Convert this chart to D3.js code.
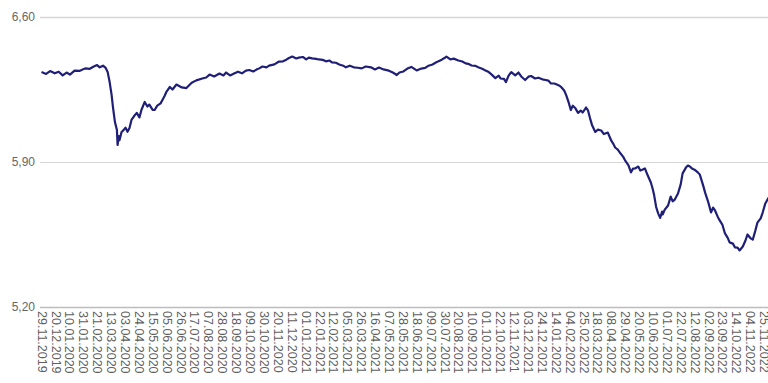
<!DOCTYPE html>
<html>
<head>
<meta charset="utf-8">
<script src="https://cdn.jsdelivr.net/npm/d3@7"></script>
<style>
  body { margin: 0; background: #fff; overflow: hidden; }
  svg { display: block; font-family: "Liberation Sans", Arial, sans-serif; }
</style>
</head>
<body>
<script>
const width = 768;
const height = 383;

// date of each observation
const dates = [
  "2019-11-29","2019-12-06","2019-12-12","2019-12-19","2019-12-25","2019-12-31",
  "2020-01-06","2020-01-11","2020-01-18","2020-01-26","2020-02-03","2020-02-10","2020-02-16","2020-02-21","2020-02-25",
  "2020-03-01","2020-03-05","2020-03-08","2020-03-11","2020-03-14","2020-03-16","2020-03-19","2020-03-22","2020-03-23","2020-03-25","2020-03-26","2020-03-29",
  "2020-04-01","2020-04-04","2020-04-07","2020-04-10","2020-04-13","2020-04-17","2020-04-21","2020-04-25","2020-04-28",
  "2020-05-03","2020-05-07","2020-05-10","2020-05-15","2020-05-18","2020-05-22","2020-05-27","2020-05-30",
  "2020-06-02","2020-06-05","2020-06-10","2020-06-14","2020-06-20","2020-06-28",
  "2020-07-05","2020-07-13","2020-07-20","2020-07-29",
  "2020-08-04","2020-08-09","2020-08-16","2020-08-24","2020-08-30",
  "2020-09-03","2020-09-09","2020-09-15","2020-09-21","2020-09-27",
  "2020-10-03","2020-10-08","2020-10-14","2020-10-19","2020-10-23","2020-10-28",
  "2020-11-03","2020-11-07","2020-11-15","2020-11-22","2020-11-28",
  "2020-12-03","2020-12-07","2020-12-12","2020-12-18","2020-12-22","2020-12-28",
  "2021-01-02","2021-01-06","2021-01-11","2021-01-17","2021-01-21","2021-01-27",
  "2021-02-01","2021-02-06","2021-02-10","2021-02-16","2021-02-21","2021-02-27",
  "2021-03-03","2021-03-09","2021-03-15","2021-03-21","2021-03-27",
  "2021-04-02","2021-04-10","2021-04-16","2021-04-22","2021-04-29",
  "2021-05-07","2021-05-13","2021-05-19","2021-05-23","2021-05-29",
  "2021-06-04","2021-06-10","2021-06-18","2021-06-25",
  "2021-07-01","2021-07-06","2021-07-12","2021-07-17","2021-07-21","2021-07-26","2021-07-30",
  "2021-08-02","2021-08-08","2021-08-13","2021-08-20","2021-08-26","2021-08-31",
  "2021-09-04","2021-09-09","2021-09-15","2021-09-19","2021-09-25","2021-09-30",
  "2021-10-05","2021-10-09","2021-10-15","2021-10-20","2021-10-23","2021-10-28","2021-10-31",
  "2021-11-04","2021-11-08","2021-11-14","2021-11-19","2021-11-23","2021-11-29",
  "2021-12-04","2021-12-08","2021-12-14","2021-12-19","2021-12-25","2021-12-30",
  "2022-01-03","2022-01-07","2022-01-12","2022-01-15","2022-01-20","2022-01-23","2022-01-27","2022-01-30",
  "2022-02-03","2022-02-06","2022-02-09","2022-02-13","2022-02-17","2022-02-21","2022-02-24",
  "2022-03-01","2022-03-04","2022-03-07","2022-03-10","2022-03-15","2022-03-19","2022-03-24","2022-03-28",
  "2022-04-03","2022-04-08","2022-04-11","2022-04-14","2022-04-18","2022-04-21","2022-04-26","2022-04-29",
  "2022-05-04","2022-05-08","2022-05-11","2022-05-14","2022-05-19","2022-05-22","2022-05-25","2022-05-29",
  "2022-06-02","2022-06-07","2022-06-10","2022-06-12","2022-06-15","2022-06-18","2022-06-21","2022-06-24","2022-06-25","2022-06-28",
  "2022-07-03","2022-07-07","2022-07-10","2022-07-13","2022-07-18","2022-07-22","2022-07-25","2022-07-30",
  "2022-08-02","2022-08-05","2022-08-08","2022-08-12","2022-08-17","2022-08-20","2022-08-25","2022-08-28",
  "2022-09-01","2022-09-06","2022-09-09","2022-09-12","2022-09-16","2022-09-19","2022-09-23","2022-09-27",
  "2022-10-01","2022-10-04","2022-10-09","2022-10-12","2022-10-16","2022-10-19","2022-10-24","2022-10-28","2022-10-31",
  "2022-11-05","2022-11-08","2022-11-12","2022-11-15","2022-11-20","2022-11-23","2022-11-27","2022-12-02"
];

// rate on each date
const rates = [
  6.334,6.325,6.339,6.328,6.336,6.318,
  6.332,6.322,6.341,6.340,6.352,6.350,6.361,6.368,6.357,
  6.365,6.354,6.334,6.286,6.223,6.165,6.093,6.054,5.982,6.025,6.006,6.045,
  6.054,6.066,6.046,6.064,6.103,6.122,6.137,6.115,6.151,
  6.190,6.168,6.177,6.152,6.151,6.172,6.183,6.201,
  6.219,6.240,6.262,6.250,6.274,6.260,
  6.257,6.283,6.294,6.303,
  6.308,6.322,6.313,6.327,6.318,
  6.332,6.318,6.327,6.336,6.328,
  6.341,6.344,6.337,6.346,6.352,6.361,
  6.357,6.365,6.371,6.385,6.386,
  6.394,6.402,6.409,6.400,6.404,6.407,
  6.395,6.404,6.400,6.398,6.395,6.393,
  6.386,6.390,6.381,6.379,6.371,6.365,
  6.357,6.365,6.357,6.355,6.352,
  6.361,6.357,6.347,6.356,6.347,
  6.341,6.332,6.320,6.332,6.337,
  6.351,6.359,6.342,6.351,
  6.354,6.365,6.371,6.380,6.386,6.394,6.402,
  6.409,6.395,6.399,6.390,6.385,6.376,
  6.374,6.366,6.364,6.357,6.350,6.342,
  6.334,6.323,6.305,6.317,6.303,6.301,6.286,
  6.317,6.334,6.318,6.332,6.313,6.296,
  6.312,6.315,6.303,6.307,6.299,6.296,
  6.293,6.279,6.279,6.275,6.268,6.260,6.245,6.223,
  6.185,6.151,6.172,6.159,6.137,6.148,6.139,
  6.163,6.149,6.112,6.079,6.045,6.056,6.052,6.035,
  6.042,6.004,5.989,5.970,5.960,5.946,5.926,5.908,
  5.885,5.850,5.868,5.869,5.878,5.859,5.863,5.869,
  5.837,5.801,5.767,5.739,5.683,5.652,5.630,5.661,5.647,5.670,
  5.690,5.733,5.710,5.718,5.748,5.791,5.845,5.873,
  5.883,5.878,5.869,5.863,5.850,5.839,5.787,5.752,
  5.714,5.657,5.680,5.666,5.636,5.618,5.598,5.555,
  5.535,5.512,5.506,5.488,5.487,5.473,5.492,5.521,5.550,
  5.531,5.525,5.570,5.607,5.628,5.656,5.700,5.728
];

// x axis tick labels, every three weeks
const tickLabels = [
  "29.11.2019","20.12.2019","10.01.2020","31.01.2020","21.02.2020","13.03.2020","03.04.2020","24.04.2020",
  "15.05.2020","05.06.2020","26.06.2020","17.07.2020","07.08.2020","28.08.2020","18.09.2020","09.10.2020",
  "30.10.2020","20.11.2020","11.12.2020","01.01.2021","22.01.2021","12.02.2021","05.03.2021","26.03.2021",
  "16.04.2021","07.05.2021","28.05.2021","18.06.2021","09.07.2021","30.07.2021","20.08.2021","10.09.2021",
  "01.10.2021","22.10.2021","12.11.2021","03.12.2021","24.12.2021","14.01.2022","04.02.2022","25.02.2022",
  "18.03.2022","08.04.2022","29.04.2022","20.05.2022","10.06.2022","01.07.2022","22.07.2022","12.08.2022",
  "02.09.2022","23.09.2022","14.10.2022","04.11.2022","25.11.2022"
];

const yTicks = [5.20, 5.90, 6.60];

const parseIso = d3.timeParse("%Y-%m-%d");
const parseTick = d3.timeParse("%d.%m.%Y");

const data = dates.map((d, i) => ({ date: parseIso(d), value: rates[i] }));

const x = d3.scaleTime()
    .domain([parseTick("29.11.2019"), parseTick("25.11.2022")])
    .range([41.5, 764]);

const y = d3.scaleLinear()
    .domain([5.2, 6.6])
    .range([307, 17]);

const svg = d3.select("body").append("svg")
    .attr("width", width)
    .attr("height", height);

// horizontal grid lines
svg.append("g")
    .selectAll("line")
    .data(yTicks)
    .enter().append("line")
    .attr("x1", 40)
    .attr("x2", width)
    .attr("y1", d => Math.round(y(d)) + 0.5)
    .attr("y2", d => Math.round(y(d)) + 0.5)
    .style("stroke", d => d === 5.2 ? "#bdbdbd" : "#d6d6d6")
    .style("stroke-width", d => d === 5.9 ? 1 : 1.5);

// y labels
const fmt = v => v.toFixed(2).replace(".", ",");
svg.append("g")
    .selectAll("text")
    .data(yTicks)
    .enter().append("text")
    .attr("x", 35)
    .attr("y", d => y(d))
    .attr("dy", "0.35em")
    .attr("text-anchor", "end")
    .style("font-size", "12px")
    .style("fill", "#666")
    .text(fmt);

// x labels, rotated
const xAxis = d3.axisBottom(x)
    .tickValues(tickLabels.map(parseTick))
    .tickFormat(d3.timeFormat("%d.%m.%Y"))
    .tickSize(0)
    .tickPadding(0);

const gx = svg.append("g")
    .attr("transform", "translate(0,309)")
    .call(xAxis);

gx.select(".domain").remove();
gx.selectAll("text")
    .attr("transform", "rotate(90)")
    .attr("x", 2)
    .attr("y", 0)
    .attr("dy", "0.35em")
    .attr("text-anchor", "start")
    .style("font-family", "\"Liberation Sans\", Arial, sans-serif")
    .style("font-size", "12.5px")
    .style("fill", "#606060");

// the rate line
const line = d3.line()
    .x(d => x(d.date))
    .y(d => y(d.value));

svg.append("path")
    .datum(data)
    .attr("d", line)
    .style("fill", "none")
    .style("stroke", "#1f1f78")
    .style("stroke-width", 2.2)
    .style("stroke-linejoin", "round");
</script>
</body>
</html>
